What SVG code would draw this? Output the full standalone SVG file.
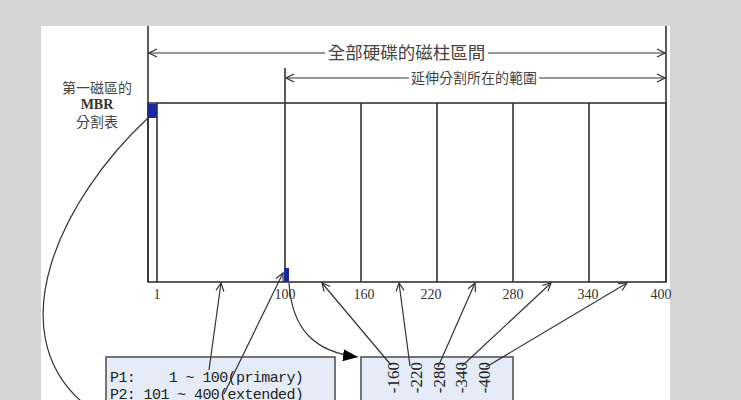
<svg xmlns="http://www.w3.org/2000/svg" width="741" height="400" viewBox="0 0 741 400">
<defs>
<style>
.ln{stroke:#333;stroke-width:1.2;fill:none}
.bd{stroke:#333;stroke-width:1.6;fill:none}
.cn{font-family:"Noto Sans CJK TC","Noto Sans CJK SC",sans-serif;fill:#444}
.num{font-family:"Liberation Serif",serif;font-size:14px;fill:#333;text-anchor:middle}
.mono{font-family:"Liberation Mono",monospace;font-size:15px;fill:#222;letter-spacing:-0.6px;white-space:pre}
.rot{font-family:"Liberation Serif",serif;font-size:17px;fill:#222;text-anchor:end}
.box{fill:#e5ecf7;stroke:#555;stroke-width:1.6}
.blue{fill:#1b2a9a}
</style>
<marker id="oa" markerWidth="10" markerHeight="10" refX="9" refY="5" orient="auto-start-reverse" markerUnits="userSpaceOnUse">
<path d="M1,1 L9,5 L1,9" fill="none" stroke="#333" stroke-width="1.2"/>
</marker>
<marker id="fa" markerWidth="16" markerHeight="12" refX="15" refY="6" orient="auto" markerUnits="userSpaceOnUse">
<path d="M0,0 L15,6 L0,12 Z" fill="#000"/>
</marker>
</defs>
<rect x="0" y="0" width="741" height="400" fill="#d4d5d4"/>
<rect x="41" y="26" width="629" height="374" fill="#fff"/>

<g id="disk">
<rect x="148" y="103" width="518" height="179" class="bd"/>
<line x1="148" y1="26" x2="148" y2="282" class="bd"/>
<line x1="666" y1="26" x2="666" y2="282" class="bd"/>
<line x1="285" y1="68" x2="285" y2="282" class="bd"/>
<line x1="157" y1="103" x2="157" y2="282" class="bd"/>
<line x1="361" y1="103" x2="361" y2="282" class="bd"/>
<line x1="437" y1="103" x2="437" y2="282" class="bd"/>
<line x1="513" y1="103" x2="513" y2="282" class="bd"/>
<line x1="589" y1="103" x2="589" y2="282" class="bd"/>
<rect x="148" y="104" width="9" height="14" class="blue"/>
<rect x="284" y="268" width="5" height="14" class="blue"/>
</g>

<g id="ticks">
<text x="157" y="299" class="num">1</text>
<text x="285" y="299" class="num">100</text>
<text x="364" y="299" class="num">160</text>
<text x="431" y="299" class="num">220</text>
<text x="513" y="299" class="num">280</text>
<text x="588" y="299" class="num">340</text>
<text x="661" y="299" class="num">400</text>
</g>

<g id="range-all">
<line x1="325" y1="53" x2="149" y2="53" class="ln" marker-end="url(#oa)"/>
<line x1="488" y1="53" x2="665" y2="53" class="ln" marker-end="url(#oa)"/>
<text x="406.5" y="59" class="cn" font-size="17.5" text-anchor="middle">全部硬碟的磁柱區間</text>
</g>

<g id="range-ext">
<line x1="409" y1="78" x2="286" y2="78" class="ln" marker-end="url(#oa)"/>
<line x1="539" y1="78" x2="665" y2="78" class="ln" marker-end="url(#oa)"/>
<text x="474" y="83" class="cn" font-size="14" text-anchor="middle">延伸分割所在的範圍</text>
</g>

<g id="mbr-label">
<text x="97" y="93" class="cn" font-size="14" text-anchor="middle">第一磁區的</text>
<text x="97" y="109" font-family="Liberation Serif,serif" font-weight="bold" font-size="14" fill="#333" text-anchor="middle">MBR</text>
<text x="97" y="127" class="cn" font-size="14" text-anchor="middle">分割表</text>
</g>

<g id="table-main">
<rect x="106" y="357" width="229" height="60" class="box"/>
<text x="110" y="382" class="mono" xml:space="preserve">P1:    1 ~ 100(primary)</text>
<text x="110" y="399" class="mono" xml:space="preserve">P2: 101 ~ 400(extended)</text>
</g>

<g id="table-ext">
<rect x="361" y="357" width="152" height="60" class="box"/>
<text transform="translate(398.5,362) rotate(-90)" class="rot">-160</text>
<text transform="translate(421.5,362) rotate(-90)" class="rot">-220</text>
<text transform="translate(444.5,362) rotate(-90)" class="rot">-280</text>
<text transform="translate(466.5,362) rotate(-90)" class="rot">-340</text>
<text transform="translate(489.5,362) rotate(-90)" class="rot">-400</text>
</g>

<g id="connectors">
<path d="M148,118 C 60,200 0,330 82,402" class="ln"/>
<line x1="209" y1="370" x2="221" y2="283" class="ln" marker-end="url(#oa)"/>
<line x1="224" y1="394" x2="283" y2="273" class="ln" marker-end="url(#oa)"/>
<path d="M289,283 C 292,330 315,352 358,357" class="ln" stroke-width="1.4" marker-end="url(#fa)"/>
<line x1="391" y1="365" x2="322" y2="283" class="ln" marker-end="url(#oa)"/>
<line x1="410" y1="366" x2="399" y2="283" class="ln" marker-end="url(#oa)"/>
<line x1="438" y1="367" x2="475" y2="283" class="ln" marker-end="url(#oa)"/>
<line x1="462" y1="366" x2="551" y2="283" class="ln" marker-end="url(#oa)"/>
<line x1="486" y1="367" x2="627" y2="283" class="ln" marker-end="url(#oa)"/>
</g>
</svg>
